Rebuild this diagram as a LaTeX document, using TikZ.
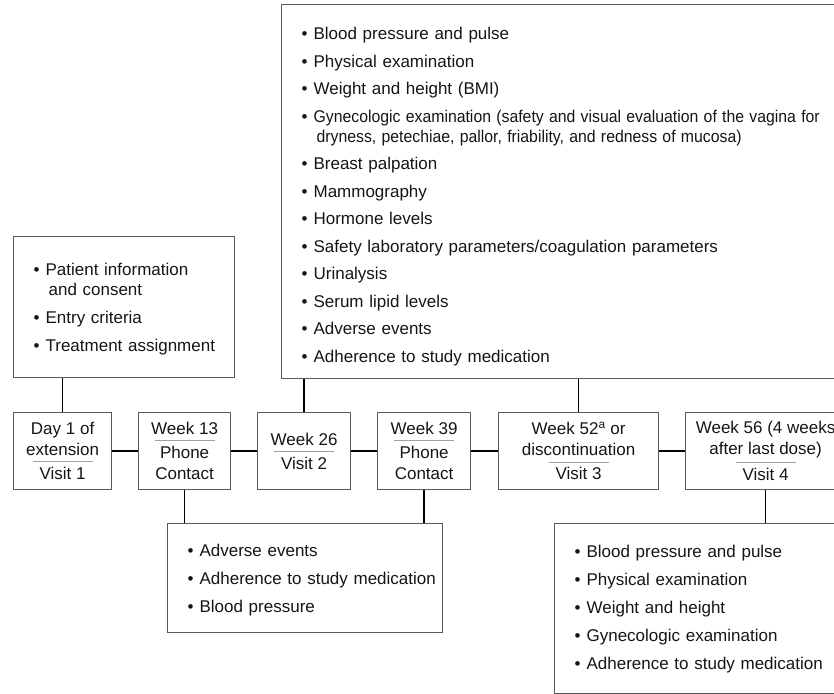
\documentclass[tikz,border=0pt]{standalone}
\usepackage{fontspec}
\usepackage{graphicx}
\setmainfont{Liberation Sans}
\definecolor{boxgray}{HTML}{5A5A5A}
\definecolor{rulegray}{HTML}{A0A0A0}
\definecolor{ink}{HTML}{151515}

\newsavebox{\seplbox}
\newcommand{\sepl}[1]{\sbox{\seplbox}{#1}\makebox[\wd\seplbox]{\makebox[0pt]{\textcolor{rulegray}{\rule[17.5pt]{60pt}{0.8pt}}}}\hspace{-\wd\seplbox}\usebox{\seplbox}}
\newcommand{\itm}[1]{\makebox[12pt][l]{\textbullet}\mbox{#1}}
\newcommand{\cont}[1]{\hspace*{15pt}\mbox{#1}}
\newcommand{\narrow}[1]{\scalebox{0.93}[1]{#1}}

\tikzset{
  visit/.style={draw=boxgray, line width=1.2pt, anchor=north west, minimum height=77pt, inner sep=0pt, align=center, text=ink, font=\fontsize{17}{21}\selectfont},
  listbox/.style={draw=boxgray, line width=1.2pt, anchor=north west, inner xsep=20pt, inner ysep=0pt, align=left, text=ink, font=\fontsize{17}{20}\selectfont},
  link/.style={line width=1.6pt, draw=black}
}

\begin{document}
\begin{tikzpicture}[x=1pt, y=-1pt]
  \useasboundingbox (0,0) rectangle (834,693);
  \clip (0,0) rectangle (834,693);
  \node[listbox, minimum width=221pt, minimum height=141pt, text width=181pt] (consent) at (13,236)
    {\rule{0pt}{17pt}\itm{Patient information}\\\cont{and consent}\\[8pt]\itm{Entry criteria}\\[8pt]\itm{Treatment assignment}};
  \node[listbox, minimum width=580pt, minimum height=374pt, text width=540pt] (exams) at (281,4)
    {\rule{0pt}{22.5pt}\itm{Blood pressure and pulse}\\[7.5pt]
     \itm{Physical examination}\\[7.5pt]
     \itm{Weight and height (BMI)}\\[7.5pt]
     \itm{\narrow{Gynecologic examination (safety and visual evaluation of the vagina for}}\\
     \cont{\narrow{dryness, petechiae, pallor, friability, and redness of mucosa)}}\\[7.5pt]
     \itm{Breast palpation}\\[7.5pt]
     \itm{Mammography}\\[7.5pt]
     \itm{Hormone levels}\\[7.5pt]
     \itm{Safety laboratory parameters/coagulation parameters}\\[7.5pt]
     \itm{Urinalysis}\\[7.5pt]
     \itm{Serum lipid levels}\\[7.5pt]
     \itm{Adverse events}\\[7.5pt]
     \itm{Adherence to study medication}};
  \node[visit, minimum width=98pt] (day1) at (13,412) {Day 1 of\\extension\\[3pt]\sepl{Visit 1}};
  \node[visit, minimum width=92pt] (wk13) at (138,412) {Week 13\\[3pt]\sepl{Phone}\\Contact};
  \node[visit, minimum width=93pt] (wk26) at (257,412) {Week 26\\[3pt]\sepl{Visit 2}};
  \node[visit, minimum width=93pt] (wk39) at (377,412) {Week 39\\[3pt]\sepl{Phone}\\Contact};
  \node[visit, minimum width=160pt] (wk52) at (498,412) {Week 52\textsuperscript{a} or\\discontinuation\\[3pt]\sepl{Visit 3}};
  \node[visit, minimum width=160pt] (wk56) at (685,412) {Week 56 (4 weeks\\after last dose)\\[3pt]\sepl{Visit 4}};
  \node[listbox, minimum width=275pt, minimum height=109pt, text width=235pt] (calls) at (167,523)
    {\rule{0pt}{16.5pt}\itm{Adverse events}\\[8pt]\itm{Adherence to study medication}\\[8pt]\itm{Blood pressure}};
  \node[listbox, minimum width=316pt, minimum height=170pt, text width=276pt] (final) at (554,523)
    {\itm{Blood pressure and pulse}\\[8pt]
     \itm{Physical examination}\\[8pt]
     \itm{Weight and height}\\[8pt]
     \itm{Gynecologic examination}\\[8pt]
     \itm{Adherence to study medication}};
  \draw[link] (day1.east) -- (wk13.west);
  \draw[link] (wk13.east) -- (wk26.west);
  \draw[link] (wk26.east) -- (wk39.west);
  \draw[link] (wk39.east) -- (wk52.west);
  \draw[link] (wk52.east) -- (wk56.west);
  \draw[link] (day1.north) -- (day1.north |- consent.south);
  \draw[link] (wk26.north) -- (wk26.north |- exams.south);
  \draw[link] (wk52.north) -- (wk52.north |- exams.south);
  \draw[link] (wk13.south) -- (wk13.south |- calls.north);
  \draw[link] (wk39.south) -- (wk39.south |- calls.north);
  \draw[link] (wk56.south) -- (wk56.south |- final.north);
\end{tikzpicture}
\end{document}
